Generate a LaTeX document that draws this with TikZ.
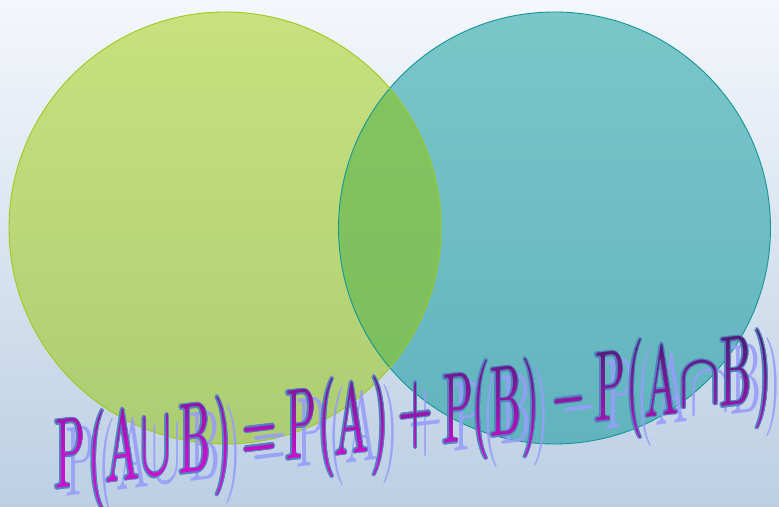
\documentclass[tikz,border=0pt]{standalone}
\definecolor{bgtop}{RGB}{244,247,251}
\definecolor{bgbot}{RGB}{188,207,228}
\definecolor{ltop}{RGB}{201,225,126}
\definecolor{lbot}{RGB}{172,205,115}
\definecolor{rtop}{RGB}{122,199,201}
\definecolor{rbot}{RGB}{97,179,190}
\definecolor{otop}{RGB}{132,197,96}
\definecolor{obot}{RGB}{122,190,92}
\definecolor{lstroke}{RGB}{160,200,30}
\definecolor{rstroke}{RGB}{20,150,150}
\definecolor{magC}{RGB}{205,15,205}
\definecolor{purC}{RGB}{80,30,120}
\definecolor{outC}{RGB}{82,128,192}
\definecolor{shC}{RGB}{150,158,250}
\tikzset{
  gl/.style={anchor=base, inner sep=0pt, outer sep=0pt, transform shape,
    yslant=0.122, xscale=4.4, yscale=9.96, font=\fontsize{10}{12}\selectfont},
  circA/.style={draw=lstroke, line width=0.9pt},
  circB/.style={draw=rstroke, line width=0.9pt}
}
\newcommand\allglyphs{%
\node[gl] (g1) at (70,19) {P};
\node[gl] (g2) at (97,21) {(};
\node[gl] (g3) at (123,26) {A};
\node[gl] (g4) at (156,31) {$\cup$};
\node[gl] (g5) at (195,34) {B};
\node[gl] (g6) at (223,36) {)};
\node[gl] (g7) at (260,43) {$=$};
\node[gl] (g8) at (301,48) {P};
\node[gl] (g9) at (327,53) {(};
\node[gl] (g10) at (352,53) {A};
\node[gl] (g11) at (380,56) {)};
\node[gl] (g12) at (416,66) {$+$};
\node[gl] (g13) at (458,64) {P};
\node[gl] (g14) at (481,71) {(};
\node[gl] (g15) at (506,71) {B};
\node[gl] (g16) at (531,74) {)};
\node[gl] (g17) at (569,81) {$-$};
\node[gl] (g18) at (610,86) {P};
\node[gl] (g19) at (635,92) {(};
\node[gl] (g20) at (662,91) {A};
\node[gl, xscale=1.4, yscale=0.75] (g21) at (700,101) {$\cap$};
\node[gl] (g22) at (736,101) {B};
\node[gl] (g23) at (763,103) {)};
}
\begin{document}
\begin{tikzpicture}[x=1pt,y=1pt]
\useasboundingbox (0,0) rectangle (779,506);
\shade[top color=bgtop, bottom color=bgbot] (0,0) rectangle (779,506);
% circles
\shade[top color=ltop, bottom color=lbot] (225,278) circle[radius=216pt];
\shade[top color=rtop, bottom color=rbot] (554.5,278) circle[radius=216pt];
\begin{scope}
  \clip (225,278) circle[radius=216pt];
  \shade[top color=otop, bottom color=obot] (554.5,278) circle[radius=216pt];
\end{scope}
\draw[circB] (554.5,278) circle[radius=216pt];
\draw[circA] (225,278) circle[radius=216pt];
% shadow
\begin{scope}[shift={(10,-8)}, text=shC, opacity=0.9]
  \allglyphs
\end{scope}
% outline
\foreach \dx/\dy in {-1.7/0, -1.3/0.9, -1.3/-0.9, -0.6/1.2, -0.6/-1.3, 0/1.1, 0/-1.2, 0.6/0.8, 0.6/-0.8, 0.8/0} {
  \begin{scope}[shift={(\dx,\dy)}, text=outC]
    \allglyphs
  \end{scope}
}
% fill with vertical gradient by bands
\foreach \yb in {320,330,...,500} {
  \pgfmathtruncatemacro\p{max(0,min(100,(\yb+5-345)/(460-345)*100))}
  \colorlet{bandc}{magC!\p!purC}
  \begin{scope}
    \clip (0,{496-\yb}) rectangle (779,{507-\yb});
    \begin{scope}[text=bandc]
      \allglyphs
    \end{scope}
  \end{scope}
}
\end{tikzpicture}
\end{document}
